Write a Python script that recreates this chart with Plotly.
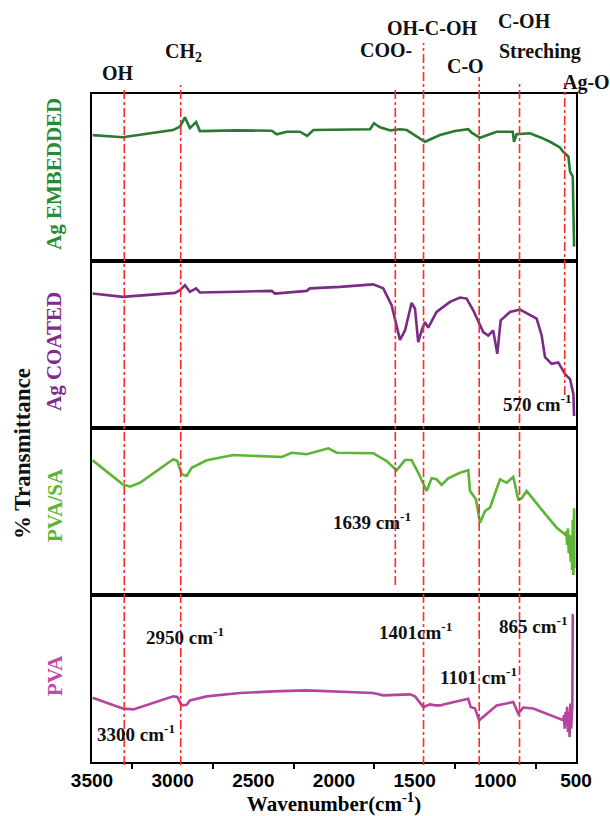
import plotly.graph_objects as go
from plotly.subplots import make_subplots

# ---------------- data (wavenumber cm-1, relative % transmittance within each panel) --------------
emb_wn = [3496, 3310, 2998, 2955, 2924, 2893, 2855, 2831, 2600, 2386, 2355, 2293, 2211, 2166, 2128,
          1900, 1777, 1752, 1715, 1650, 1591, 1549, 1436, 1343, 1250, 1168, 1147, 1095, 992, 892, 884,
          868, 785, 720, 661, 600, 579, 547, 537, 520, 512]
emb_t = [75.4, 74.1, 78.4, 80.4, 86.0, 79.6, 83.2, 77.8, 78.2, 78.0, 75.9, 77.4, 77.4, 74.9, 78.4,
         78.6, 78.9, 82.5, 80.1, 78.2, 78.9, 78.4, 71.4, 75.4, 77.8, 78.9, 76.8, 73.8, 77.4, 77.4, 71.4,
         75.9, 76.5, 74.0, 71.4, 68.0, 65.4, 62.5, 53.5, 50.5, 8.6]

coat_wn = [3496, 3310, 2986, 2955, 2924, 2893, 2855, 2831, 2600, 2386, 2366, 2169, 2149, 1963, 1757,
           1695, 1643, 1616, 1591, 1560, 1519, 1498, 1478, 1453, 1436, 1416, 1364, 1281, 1219, 1178,
           1137, 1075, 1044, 1013, 988, 967, 909, 847, 744, 713, 692, 651, 610, 568, 537, 516, 512]
coat_t = [80.5, 78.5, 80.9, 82.5, 85.5, 81.5, 83.6, 81.1, 81.6, 82.1, 80.5, 82.1, 83.6, 84.5, 86.0,
          83.6, 73.5, 63.4, 52.8, 58.4, 74.9, 71.5, 51.4, 59.5, 63.4, 60.1, 69.5, 75.5, 78.1, 77.5,
          70.5, 57.4, 55.4, 58.4, 44.4, 64.5, 69.5, 70.9, 65.5, 55.4, 42.4, 38.4, 39.3, 32.3, 29.3,
          20.3, 7.2]

pvasa_wn = [3496, 3310, 3265, 3203, 2996, 2971, 2944, 2913, 2882, 2789, 2624, 2438, 2324, 2262, 2169,
            2035, 1984, 1757, 1674, 1612, 1560, 1519, 1478, 1426, 1395, 1364, 1333, 1292, 1219, 1168,
            1157, 1120, 1095, 1064, 1033, 971, 930, 889, 858, 837, 806, 723, 620, 568, 560, 555, 550,
            545, 540, 533, 528, 524, 520, 516, 512, 510]
pvasa_t = [80.7, 66.3, 64.9, 67.2, 81.3, 80.2, 72.3, 71.3, 76.2, 80.7, 83.8, 83.2, 82.6, 85.2, 84.3,
           87.8, 85.2, 84.9, 80.2, 74.7, 80.8, 80.8, 73.2, 62.3, 69.9, 69.3, 65.9, 69.9, 73.2, 74.7,
           62.3, 57.3, 43.3, 50.3, 52.3, 69.3, 67.2, 70.7, 57.3, 57.9, 62.3, 52.3, 40.3, 36.3, 38.0,
           30.0, 40.0, 25.0, 36.0, 20.0, 35.0, 15.0, 45.0, 12.0, 52.0, 16.0]

pva_wn = [3496, 3310, 3244, 2996, 2971, 2944, 2913, 2893, 2789, 2583, 2377, 2169, 1757, 1695, 1529,
          1498, 1446, 1405, 1374, 1343, 1302, 1168, 1153, 1126, 1100, 1064, 992, 889, 858, 827, 765,
          579, 575, 570, 565, 560, 555, 550, 545, 540, 535, 530, 523, 520, 515]
pva_t = [38.5, 32.0, 31.5, 39.3, 38.9, 33.9, 34.3, 36.9, 39.3, 41.3, 42.3, 42.9, 41.3, 39.9, 40.5,
         39.3, 32.9, 34.5, 33.9, 33.9, 34.9, 37.9, 32.9, 32.0, 25.0, 28.0, 33.9, 35.9, 29.0, 32.6, 32.0,
         25.0, 28.0, 20.0, 30.0, 22.0, 33.0, 18.0, 30.0, 15.0, 35.0, 20.0, 32.9, 88.0, 88.0]

series_names = ["Ag EMBEDDED", "Ag COATED", "PVA/SA", "PVA"]
series_wn = [emb_wn, coat_wn, pvasa_wn, pva_wn]
series_t = [emb_t, coat_t, pvasa_t, pva_t]

peak_positions = [3300, 2950, 1620, 1445, 1100, 850, 570]
x_tick_vals = [3500, 3000, 2500, 2000, 1500, 1000, 500]
x_tick_text = ["3500", "3000", "2500", "2000", "1500", "1000", "500"]
x_minor_vals = [3250, 2750, 2250, 1750, 1250, 750]

group_labels = ["OH", "CH<sub>2</sub>", "COO-", "OH-C-OH", "C-O", "C-OH", "Streching", "Ag-O"]
peak_labels = ["570 cm<sup>-1</sup>", "1639 cm<sup>-1</sup>", "2950 cm<sup>-1</sup>",
               "1401cm<sup>-1</sup>", "865 cm<sup>-1</sup>", "1101 cm<sup>-1</sup>",
               "3300 cm<sup>-1</sup>"]

# ---------------- styling ----------------
W, H = 610, 816
PL, PR, PT, PB = 92, 576, 94, 762
line_colors = ["#277a30", "#7b2a86", "#5cb534", "#b5449f"]
label_colors = ["#2a8a34", "#7f2c8a", "#5cb534", "#bf4aa8"]
SERIF = "Liberation Serif"


def px2paper(x, y):
    return (x - PL) / (PR - PL), (PB - y) / (PB - PT)


fig = make_subplots(rows=4, cols=1, shared_xaxes=True, vertical_spacing=0)

for i in range(4):
    fig.add_trace(go.Scatter(x=series_wn[i], y=series_t[i], mode="lines",
                             line=dict(color=line_colors[i], width=2.6),
                             name=series_names[i], showlegend=False), row=i + 1, col=1)

for i in range(1, 5):
    fig.update_yaxes(range=[0, 100], showticklabels=False, ticks="", showgrid=False,
                     zeroline=False, showline=True, mirror=True, linecolor="black",
                     linewidth=2, row=i, col=1)
    fig.update_xaxes(range=[3500, 500], showgrid=False, zeroline=False, showline=True,
                     mirror=True, linecolor="black", linewidth=2, row=i, col=1)

fig.update_xaxes(tickvals=x_tick_vals, ticktext=x_tick_text, ticks="",
                 tickfont=dict(family="Liberation Sans", size=19, color="black", weight="bold"),
                 title=dict(text="Wavenumber(cm<sup>-1</sup>)", standoff=0,
                            font=dict(family=SERIF, size=21, color="black", weight="bold")),
                 row=4, col=1)

# overlay axis carrying only the in-between tick marks
fig.add_trace(go.Scatter(x=[x_tick_vals[0]], y=[-50], mode="markers", xaxis="x5", yaxis="y4",
                         marker=dict(opacity=0), showlegend=False, hoverinfo="skip"))
fig.update_layout(xaxis5=dict(overlaying="x4", anchor="y4", side="bottom", range=[3500, 500],
                              tickmode="array", tickvals=x_minor_vals, ticks="outside",
                              ticklen=6, tickwidth=2, tickcolor="black", showticklabels=False,
                              showgrid=False, zeroline=False, showline=False))

# red dash-dot marker lines (top, bottom in pixels)
extents = [(87, 765), (85, 765), (90, 585), (43, 765), (77, 765), (84, 765), (83, 395)]
for wn, (top, bot) in zip(peak_positions, extents):
    _, y0 = px2paper(0, bot)
    _, y1 = px2paper(0, top)
    fig.add_shape(type="line", xref="x4", yref="paper", x0=wn, x1=wn, y0=y0, y1=y1,
                  line=dict(color="#ff2a2a", width=1.6, dash="dashdot"), layer="above")

annots = []
# group labels on top
group_pos = [(118, 73), (183, 52), (386, 50), (432, 28), (465, 66), (524, 21), (540, 51), (586, 83)]
for txt, (x, y) in zip(group_labels, group_pos):
    xp, yp = px2paper(x, y)
    annots.append(dict(text=txt, x=xp, y=yp, xref="paper", yref="paper", showarrow=False,
                       xanchor="center", yanchor="middle",
                       font=dict(family=SERIF, size=20, color="#111", weight="bold")))
# peak wavenumber labels
peak_pos = [(537, 403), (372, 521), (185, 636), (415, 631), (533, 625), (478, 676), (136, 733)]
for txt, (x, y) in zip(peak_labels, peak_pos):
    xp, yp = px2paper(x, y)
    annots.append(dict(text=txt, x=xp, y=yp, xref="paper", yref="paper", showarrow=False,
                       xanchor="center", yanchor="middle",
                       font=dict(family=SERIF, size=19, color="#111", weight="bold")))
# series labels (rotated)
side_pos = [(54, 174), (54, 352), (55, 505), (55, 676)]
for txt, col, (x, y) in zip(series_names, label_colors, side_pos):
    xp, yp = px2paper(x, y)
    annots.append(dict(text=txt, x=xp, y=yp, xref="paper", yref="paper", showarrow=False,
                       textangle=-90, xanchor="center", yanchor="middle",
                       font=dict(family=SERIF, size=21, color=col, weight="bold")))
xp, yp = px2paper(22, 454)
annots.append(dict(text="% Transmittance", x=xp, y=yp, xref="paper", yref="paper",
                   showarrow=False, textangle=-90, xanchor="center", yanchor="middle",
                   font=dict(family=SERIF, size=23, color="#111", weight="bold")))

fig.update_layout(width=W, height=H, paper_bgcolor="white", plot_bgcolor="white",
                  margin=dict(l=PL, r=W - PR, t=PT, b=H - PB), annotations=annots,
                  showlegend=False)

fig.write_html("out.html")
